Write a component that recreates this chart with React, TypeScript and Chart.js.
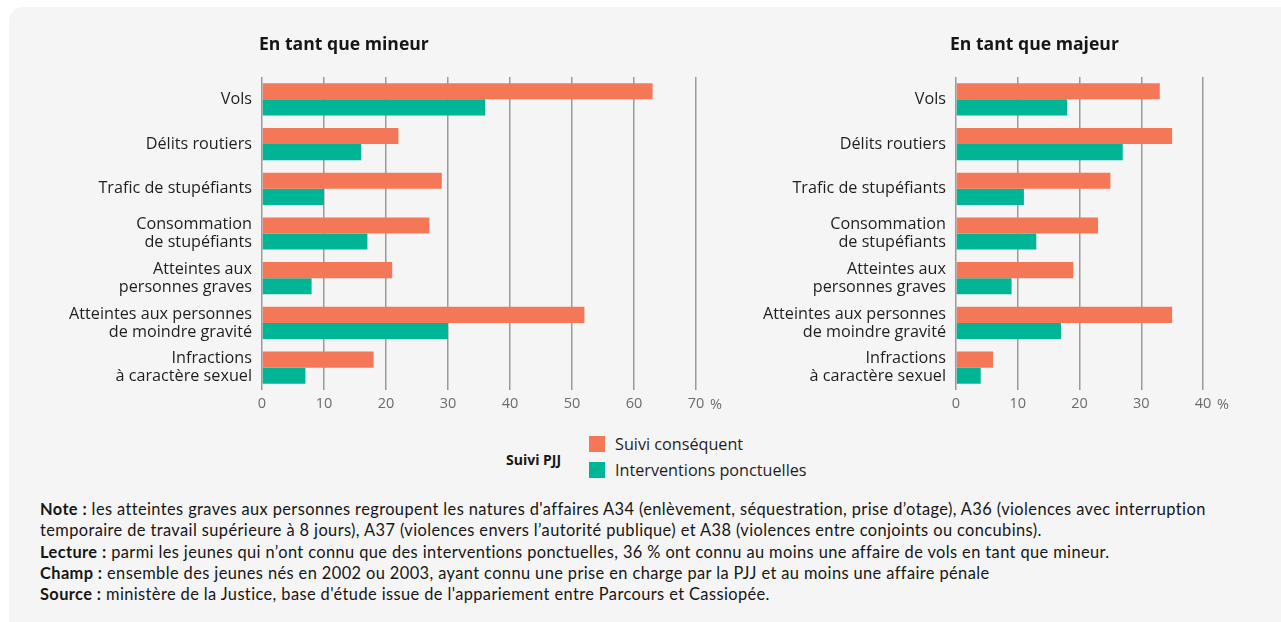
import React, { useEffect, useRef } from "react";
import { Chart, registerables } from "chart.js";

Chart.register(...registerables);

const categories: string[][] = [
  ["Vols"],
  ["Délits routiers"],
  ["Trafic de stupéfiants"],
  ["Consommation", "de stupéfiants"],
  ["Atteintes aux", "personnes graves"],
  ["Atteintes aux personnes", "de moindre gravité"],
  ["Infractions", "à caractère sexuel"],
];

const seriesNames = ["Suivi conséquent", "Interventions ponctuelles"];

const mineurSuivi = [63, 22, 29, 27, 21, 52, 18];
const mineurInterventions = [36, 16, 10, 17, 8, 30, 7];
const majeurSuivi = [33, 35, 25, 23, 19, 35, 6];
const majeurInterventions = [18, 27, 11, 13, 9, 17, 4];

const mineurTitle = "En tant que mineur";
const majeurTitle = "En tant que majeur";
const mineurMax = 70;
const majeurMax = 40;
const tickStep = 10;

const ORANGE = "#F47857";
const TEAL = "#00B596";
const FONT = "'Open Sans', sans-serif";

type PanelProps = {
  title: string;
  a: number[];
  b: number[];
  max: number;
  width: number;
  height: number;
  yWidth: number;
  padRight: number;
  titleShift: number;
};

function Panel({ title, a, b, max, width, height, yWidth, padRight, titleShift }: PanelProps) {
  const ref = useRef<HTMLCanvasElement>(null);
  useEffect(() => {
    if (!ref.current) return;
    const deco = {
      id: "deco",
      afterDraw(chart: any) {
        const ctx = chart.ctx;
        const area = chart.chartArea;
        const xs = chart.scales.x;
        ctx.save();
        ctx.fillStyle = "#161616";
        ctx.font = `bold 17.6px ${FONT}`;
        ctx.textBaseline = "middle";
        ctx.textAlign = "left";
        ctx.fillText(title, area.left - titleShift, 45);
        ctx.fillStyle = "#6b6b6b";
        ctx.font = `14.5px ${FONT}`;
        ctx.fillText("%", xs.getPixelForValue(max) + 14, area.bottom + 15);
        ctx.restore();
      },
    };
    const chart = new Chart(ref.current, {
      type: "bar",
      data: {
        labels: categories,
        datasets: [
          { label: seriesNames[0], data: a, backgroundColor: ORANGE },
          { label: seriesNames[1], data: b, backgroundColor: TEAL },
        ],
      },
      options: {
        indexAxis: "y",
        responsive: false,
        animation: false,
        devicePixelRatio: 1,
        layout: { padding: { top: 77, right: padRight, bottom: 0, left: 0 } },
        datasets: { bar: { categoryPercentage: 0.72, barPercentage: 1 } },
        plugins: { legend: { display: false }, tooltip: { enabled: false }, title: { display: false } },
        scales: {
          x: {
            min: 0,
            max,
            ticks: {
              stepSize: tickStep,
              color: "#6b6b6b",
              font: { family: FONT, size: 14.5 },
              padding: 5,
              maxRotation: 0,
            },
            grid: { color: "#9a9a9a", lineWidth: 1.5, drawTicks: false },
            border: { display: false },
            afterFit: (s: any) => {
              s.height = 30;
            },
          },
          y: {
            ticks: {
              color: "#1e1e1e",
              font: { family: FONT, size: 16.2, lineHeight: 1.11 },
              padding: 10,
            },
            grid: { display: false, drawTicks: false },
            border: { display: false },
            afterFit: (s: any) => {
              s.width = yWidth;
            },
          },
        },
      },
      plugins: [deco],
    } as any);
    return () => chart.destroy();
  }, []);
  return <canvas ref={ref} width={width} height={height} style={{ width, height, display: "block" }} />;
}

export default function App() {
  const noteStyle: React.CSSProperties = {
    position: "absolute",
    left: 40,
    top: 498,
    fontFamily: "Lato, sans-serif",
    fontSize: 16.4,
    letterSpacing: "0.4px",
    lineHeight: "21.3px",
    color: "#161616",
    whiteSpace: "nowrap",
  };
  return (
    <div
      style={{
        position: "fixed",
        left: 0,
        top: 0,
        width: 1281,
        height: 622,
        background: "#ffffff",
        overflow: "hidden",
      }}
    >
      <div
        style={{
          position: "absolute",
          left: 9,
          top: 7,
          width: 1300,
          height: 640,
          background: "#f5f5f5",
          borderRadius: 14,
        }}
      />
      <div style={{ position: "absolute", left: 10, top: 0 }}>
        <Panel title={mineurTitle} a={mineurSuivi} b={mineurInterventions} max={mineurMax} width={720} height={420} yWidth={252} padRight={34} titleShift={3} />
      </div>
      <div style={{ position: "absolute", left: 730, top: 0 }}>
        <Panel title={majeurTitle} a={majeurSuivi} b={majeurInterventions} max={majeurMax} width={540} height={420} yWidth={226} padRight={67} titleShift={6} />
      </div>
      <div
        style={{
          position: "absolute",
          left: 506,
          top: 450,
          fontFamily: FONT,
          fontWeight: 700,
          fontSize: 14,
          color: "#161616",
          lineHeight: "20px",
        }}
      >
        Suivi PJJ
      </div>
      {seriesNames.map((name, i) => (
        <div key={name} style={{ position: "absolute", left: 589, top: 436 + i * 26, height: 16, display: "flex", alignItems: "center" }}>
          <div style={{ width: 16, height: 16, background: i === 0 ? ORANGE : TEAL }} />
          <div style={{ marginLeft: 10, fontFamily: FONT, fontSize: 16.2, color: "#1e1e1e", whiteSpace: "nowrap" }}>{name}</div>
        </div>
      ))}
      <div style={noteStyle}>
        <b>Note :</b> les atteintes graves aux personnes regroupent les natures d'affaires A34 (enlèvement, séquestration, prise d’otage), A36 (violences avec interruption
        <br />
        temporaire de travail supérieure à 8 jours), A37 (violences envers l’autorité publique) et A38 (violences entre conjoints ou concubins).
        <br />
        <b>Lecture :</b> parmi les jeunes qui n’ont connu que des interventions ponctuelles, 36 % ont connu au moins une affaire de vols en tant que mineur.
        <br />
        <b>Champ :</b> ensemble des jeunes nés en 2002 ou 2003, ayant connu une prise en charge par la PJJ et au moins une affaire pénale
        <br />
        <b>Source :</b> ministère de la Justice, base d'étude issue de l'appariement entre Parcours et Cassiopée.
      </div>
    </div>
  );
}
